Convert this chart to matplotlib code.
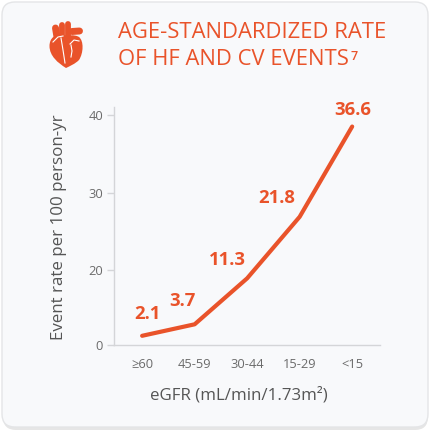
import matplotlib
matplotlib.use("Agg")
import matplotlib.pyplot as plt
from matplotlib.patches import FancyBboxPatch, PathPatch
from matplotlib.path import Path

# data
categories = ["≥60", "45-59", "30-44", "15-29", "<15"]
line_values = [1.6, 3.6, 11.6, 22.3, 38.0]      # where the line is drawn
label_values = [2.1, 3.7, 11.3, 21.8, 36.6]     # printed rates
ytick_pos = [0, 13, 26.5, 40]
ytick_labels = ["0", "20", "30", "40"]

ORANGE = "#E9532A"
W, H = 432, 437

plt.rcParams["font.family"] = ["Open Sans", "DejaVu Sans"]

fig = plt.figure(figsize=(W / 100, H / 100), dpi=100)
fig.patch.set_facecolor("white")


def px(x, y):
    # pixel from top-left -> inches from bottom-left
    return (x / 100, (H - y) / 100)


# card with a soft shadow
shadow = FancyBboxPatch(px(3, 430), 4.25, 4.24,
                        boxstyle="round,pad=0,rounding_size=0.13",
                        transform=fig.dpi_scale_trans, fc="#e6e6e6", ec="none",
                        zorder=-10)
card = FancyBboxPatch(px(2, 427), 4.26, 4.25,
                      boxstyle="round,pad=0,rounding_size=0.13",
                      transform=fig.dpi_scale_trans, fc="#f8f9fb", ec="#e4e5e7",
                      lw=1, zorder=-9)
fig.patches.extend([shadow, card])

# heart icon
body = [px(66, 68), px(58, 63), px(49.5, 56), px(49.5, 46),
        px(49.5, 38), px(55, 34), px(62, 35),
        px(68, 36), px(74, 34), px(79, 37),
        px(84, 41), px(83.5, 53), px(79, 60),
        px(75, 64), px(70, 66), px(66, 68)]
codes = [Path.MOVETO] + [Path.CURVE4] * 15
fig.patches.append(PathPatch(Path(body, codes), transform=fig.dpi_scale_trans,
                             fc=ORANGE, ec="none"))
vessels = [
    [(55.5, 28), (57, 37), 5.0],
    [(62, 25), (62, 37), 4.2],
    [(67.5, 24), (67.5, 37), 4.2],
    [(72, 31.5), (79.5, 31), 5.0],
]
for a, b, w in vessels:
    xs, ys = zip(px(*a), px(*b))
    fig.add_artist(plt.Line2D(xs, ys, transform=fig.dpi_scale_trans,
                              color=ORANGE, lw=w, solid_capstyle="round"))
details = [
    [(53, 42), (58, 37), (63, 36)],
    [(61, 38), (63, 50), (65, 63)],
    [(70, 44), (74, 40), (79, 41)],
    [(71, 45), (72, 51), (71, 57)],
]
for seg in details:
    xs, ys = zip(*[px(a, b) for a, b in seg])
    fig.add_artist(plt.Line2D(xs, ys, transform=fig.dpi_scale_trans,
                              color="white", lw=0.8))

# title
fig.text(118 / W, 1 - 37.5 / H, "AGE-STANDARDIZED RATE", color=ORANGE,
         fontsize=15.8, ha="left", va="baseline")
t2 = fig.text(118 / W, 1 - 65 / H, "OF HF AND CV EVENTS", color=ORANGE,
              fontsize=15.8, ha="left", va="baseline")
fig.canvas.draw()
bb = t2.get_window_extent()
fig.text((bb.x1 + 1.5) / W, 1 - 60 / H, "7", color=ORANGE, fontsize=9,
         fontweight="semibold", ha="left", va="baseline")

# chart
ax = fig.add_axes([114.3 / W, 1 - 345 / H, (380 - 114.3) / W, (345 - 107) / H])
ax.set_facecolor("none")
x = list(range(len(categories)))
ax.plot(x, line_values, color=ORANGE, lw=3, solid_capstyle="round",
        solid_joinstyle="round")

offsets = [(4, 16), (-9, 16.5), (-14.5, 13.5), (-16.5, 13.5), (0.7, 12)]
for xi, yi, v, off in zip(x, line_values, label_values, offsets):
    ax.annotate(f"{v:.1f}", (xi, yi), xytext=off, textcoords="offset points",
                ha="center", va="center", color=ORANGE, fontsize=13.3,
                fontweight="bold")

ax.set_xlim(-0.53, 4.53)
ax.set_ylim(0, 41.4)
ax.set_xticks(x, categories)
ax.set_yticks(ytick_pos, ytick_labels)
for s in ["top", "right"]:
    ax.spines[s].set_visible(False)
for s in ["left", "bottom"]:
    ax.spines[s].set_color("#d4d5d8")
    ax.spines[s].set_linewidth(1)
ax.tick_params(axis="x", length=0, pad=9, labelsize=9.3, labelcolor="#6b6b6b")
ax.tick_params(axis="y", length=5, width=1, color="#d4d5d8", pad=3,
               labelsize=9.3, labelcolor="#6b6b6b")

fig.text(59 / W, 1 - 227 / H, "Event rate per 100 person-yr", rotation=90,
         ha="center", va="center", fontsize=12.2, color="#555555")
fig.text(239 / W, 1 - 395 / H, "eGFR (mL/min/1.73m²)", ha="center",
         va="center", fontsize=12.2, color="#555555")

fig.savefig("out.png", dpi=100, facecolor=fig.get_facecolor())
